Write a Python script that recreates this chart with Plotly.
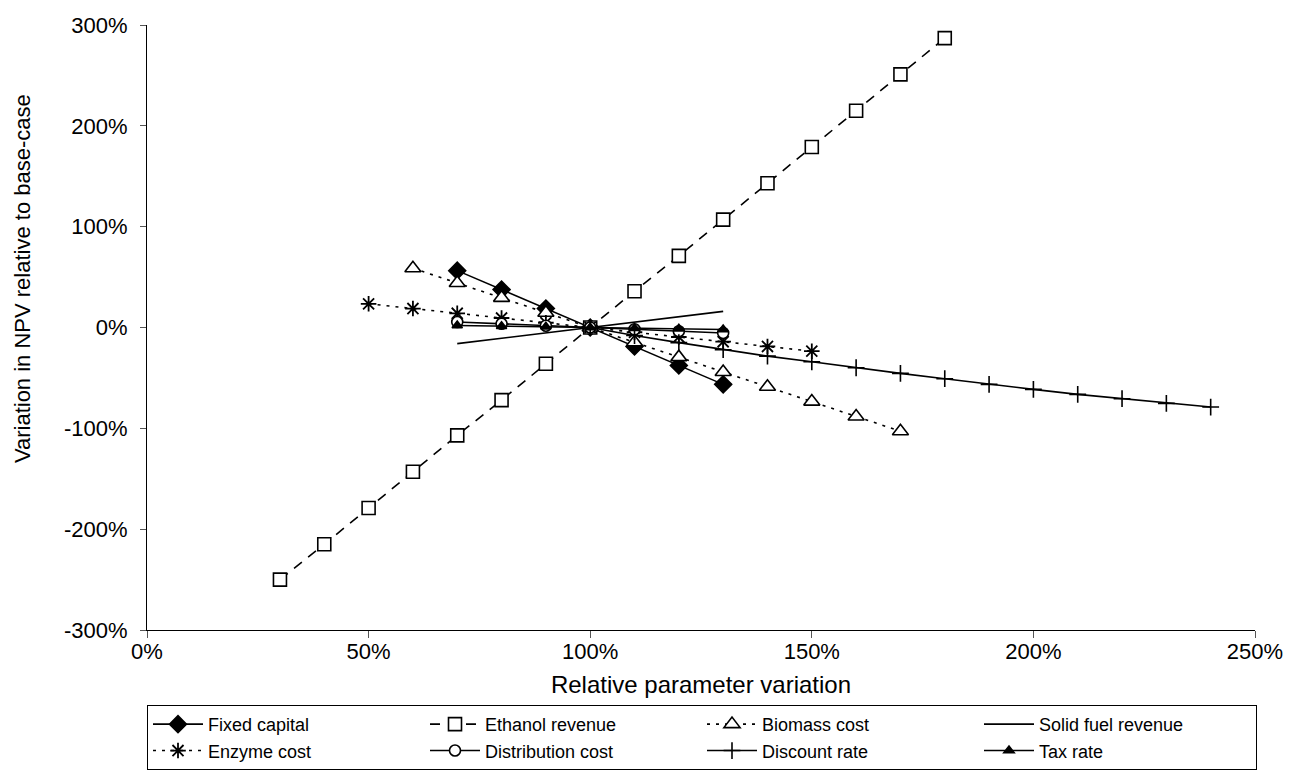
import plotly.graph_objects as go

# ---- data (percent) ----
x_fixed = [70, 80, 90, 100, 110, 120, 130]
y_fixed = [56.4, 37.6, 18.8, 0, -18.8, -37.6, -56.4]

x_ethanol = [30, 40, 50, 60, 70, 80, 90, 100, 110, 120, 130, 140, 150, 160, 170, 180]
y_ethanol = [-250, -215, -179, -143, -107, -72, -36, 0, 36, 71, 107, 143, 179, 215, 251, 287]

x_biomass = [60, 70, 80, 90, 100, 110, 120, 130, 140, 150, 160, 170]
y_biomass = [58.8, 44.1, 29.4, 14.7, 0, -14.7, -29.4, -44.1, -58.8, -73.5, -88.2, -102.9]

x_solid = [70, 80, 90, 100, 110, 120, 130]
y_solid = [-16, -10.7, -5.3, 0, 5.3, 10.7, 16]

x_enzyme = [50, 60, 70, 80, 90, 100, 110, 120, 130, 140, 150]
y_enzyme = [23.5, 18.8, 14.1, 9.4, 4.7, 0, -4.7, -9.4, -14.1, -18.8, -23.5]

x_distr = [70, 80, 90, 100, 110, 120, 130]
y_distr = [5.5, 3.7, 1.8, 0, -1.8, -3.7, -5.5]

x_discount = [100, 110, 120, 130, 140, 150, 160, 170, 180, 190, 200, 210, 220, 230, 240]
y_discount = [0, -8, -15, -22, -28.4, -34, -39.9, -45.5, -50.8, -56.4, -61.4, -66.3, -70.6, -75.2, -78.9]

x_tax = [70, 80, 90, 100, 110, 120, 130]
y_tax = [2, 1.3, 0.7, 0, -0.7, -1.3, -2]

x_ticks = [0, 50, 100, 150, 200, 250]
y_ticks = [-300, -200, -100, 0, 100, 200, 300]

FONT = "Liberation Sans, Arial, sans-serif"
BLACK = "#000000"

fig = go.Figure()


def add(name, xs, ys, dash, symbol, msize, fill="white", mode="lines+markers", mline=1.6):
    fig.add_trace(go.Scatter(
        x=xs, y=ys, name=name, mode=mode,
        line=dict(color=BLACK, width=1.6, dash=dash),
        marker=dict(symbol=symbol, size=msize, color=fill,
                    line=dict(color=BLACK, width=mline)),
    ))


add("Fixed capital", x_fixed, y_fixed, "solid", "diamond", 13, fill=BLACK)
add("Ethanol revenue", x_ethanol, y_ethanol, "10px,8px", "square", 13)
add("Biomass cost", x_biomass, y_biomass, "3px,6px", "triangle-up", 14)
add("Solid fuel revenue", x_solid, y_solid, "solid", "circle", 1, mode="lines")
add("Enzyme cost", x_enzyme, y_enzyme, "3px,6px", "asterisk-open", 13, fill=BLACK, mline=1.8)
add("Distribution cost", x_distr, y_distr, "solid", "circle", 11)
add("Discount rate", x_discount, y_discount, "solid", "cross-thin-open", 12, fill=BLACK, mline=1.6)
add("Tax rate", x_tax, y_tax, "solid", "triangle-up", 9, fill=BLACK)

# The page body has an 8px margin, so the figure is sized to fit the window.
fig.update_layout(
    width=1283, height=773,
    paper_bgcolor="white", plot_bgcolor="white",
    font=dict(family=FONT, size=20, color=BLACK),
    margin=dict(l=139, r=36, t=17, b=150),
    showlegend=True,
    legend=dict(
        orientation="h", x=0.0, xanchor="left", y=-0.122, yanchor="top",
        bordercolor=BLACK, borderwidth=1, bgcolor="white",
        font=dict(family=FONT, size=18, color=BLACK),
        entrywidth=212, entrywidthmode="pixels",
        itemwidth=50, tracegroupgap=0,
    ),
    annotations=[dict(
        text="Variation in NPV relative to base-case",
        textangle=-90, xref="paper", yref="paper",
        x=0, xshift=-125, xanchor="center",
        y=0.58, yanchor="middle", showarrow=False,
        font=dict(family=FONT, size=22, color=BLACK),
    )],
)

fig.update_xaxes(
    range=[0, 250], tickvals=x_ticks, ticktext=[f"{v}%" for v in x_ticks],
    showline=True, linecolor=BLACK, linewidth=1, mirror=False,
    ticks="outside", ticklen=7, tickcolor="#555", tickwidth=1,
    showgrid=False, zeroline=False, automargin=False,
    tickfont=dict(size=22), ticklabelstandoff=-5,
    title=dict(text="Relative parameter variation", font=dict(size=24), standoff=12),
)
fig.update_yaxes(
    range=[-300, 300], tickvals=y_ticks, ticktext=[f"{v}%" for v in y_ticks],
    showline=True, linecolor=BLACK, linewidth=1,
    ticks="outside", ticklen=6, tickcolor="#555", tickwidth=1,
    showgrid=False, zeroline=False, automargin=False,
    tickfont=dict(size=22), ticklabelstandoff=8,
)

fig.write_html("out.html")
